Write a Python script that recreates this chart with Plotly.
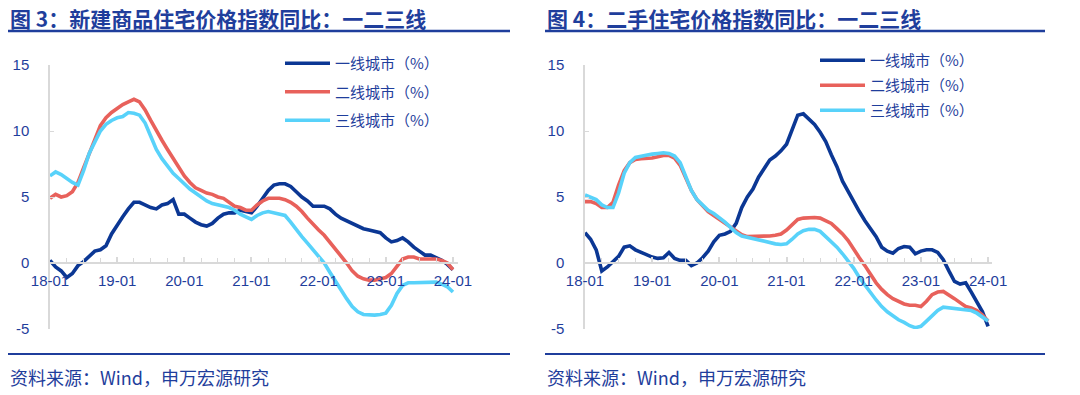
import plotly.graph_objects as go

# ---------------- data (monthly, 2018-01 .. 2024-01) ----------------
months = [f"{y:02d}-{m:02d}" for y in range(18, 25) for m in range(1, 13)][:73]
tick_labels = ["18-01", "19-01", "20-01", "21-01", "22-01", "23-01", "24-01"]
series_names = ["一线城市（%）", "二线城市（%）", "三线城市（%）"]

# Figure 3: new commercial housing price index YoY
new_tier1 = [0.2, -0.3, -0.6, -1.1, -0.8, -0.2, 0.1, 0.5, 0.9, 1.0, 1.3, 2.2,
             2.9, 3.5, 4.1, 4.6, 4.6, 4.4, 4.2, 4.1, 4.4, 4.5, 4.8, 3.7,
             3.7, 3.4, 3.1, 2.9, 2.8, 3.0, 3.4, 3.7, 3.8, 3.8, 4.0, 3.9,
             3.8, 4.3, 4.9, 5.5, 5.9, 6.0, 6.0, 5.8, 5.4, 5.0, 4.7, 4.3,
             4.3, 4.3, 4.1, 3.7, 3.4, 3.2, 3.0, 2.8, 2.6, 2.5, 2.4, 2.3,
             1.9, 1.6, 1.7, 1.9, 1.6, 1.2, 0.9, 0.6, 0.6, 0.4, 0.2, -0.1,
             -0.5]
new_tier2 = [4.9, 5.2, 5.0, 5.1, 5.4, 6.1, 7.2, 8.3, 9.4, 10.4, 11.0, 11.4,
             11.7, 12.0, 12.2, 12.4, 12.2, 11.6, 10.8, 10.0, 9.3, 8.6, 7.9, 7.2,
             6.6, 6.1, 5.7, 5.5, 5.3, 5.2, 5.0, 4.9, 4.6, 4.3, 4.2, 4.0,
             4.0, 4.4, 4.7, 4.9, 4.9, 4.9, 4.8, 4.6, 4.3, 3.9, 3.4, 2.9,
             2.5, 2.1, 1.6, 1.0, 0.5, 0.0, -0.6, -1.0, -1.2, -1.3, -1.3, -1.2,
             -1.1, -0.8, -0.2, 0.3, 0.45, 0.45, 0.3, 0.3, 0.3, 0.3, 0.2, 0.0,
             -0.5]
new_tier3 = [6.6, 6.9, 6.7, 6.4, 6.1, 5.9, 7.0, 8.3, 9.2, 10.0, 10.5, 10.8,
             11.0, 11.1, 11.4, 11.35, 11.2, 10.6, 9.6, 8.6, 7.9, 7.3, 6.8, 6.4,
             6.0, 5.6, 5.3, 5.0, 4.7, 4.5, 4.4, 4.35, 4.2, 4.0, 3.7, 3.5,
             3.3, 3.6, 3.8, 3.9, 3.8, 3.7, 3.6, 3.1, 2.5, 2.0, 1.5, 1.0,
             0.5, 0.0, -0.7, -1.4, -2.0, -2.7, -3.3, -3.7, -3.9, -3.95, -3.95, -3.9,
             -3.8, -3.2, -2.3, -1.7, -1.5, -1.5, -1.5, -1.45, -1.45, -1.45, -1.6, -1.8,
             -2.2]

# Figure 4: second-hand housing price index YoY
used_tier1 = [2.3, 1.8, 1.0, -0.6, -0.3, 0.1, 0.5, 1.2, 1.3, 1.0, 0.8, 0.6,
              0.45, 0.35, 0.4, 0.8, 0.35, 0.2, 0.2, -0.2, 0.0, 0.4, 0.9, 1.6,
              2.1, 2.2, 2.4, 3.0, 4.2, 5.0, 5.6, 6.5, 7.2, 7.8, 8.1, 8.5,
              9.0, 10.2, 11.2, 11.3, 10.9, 10.5, 9.9, 9.2, 8.2, 7.3, 6.2, 5.4,
              4.7, 3.9, 3.2, 2.6, 2.0, 1.2, 0.9, 0.75, 1.1, 1.25, 1.2, 0.7,
              0.9, 1.0, 1.0, 0.8, 0.25, -0.6, -1.4, -1.6, -1.5, -2.2, -3.0, -3.7,
              -4.8]
used_tier2 = [4.65, 4.65, 4.5, 4.2, 4.2, 4.6, 5.9, 7.0, 7.6, 7.85, 7.9, 7.9,
              7.95, 8.05, 8.15, 8.15, 7.95, 7.4, 6.5, 5.5, 4.8, 4.3, 3.9, 3.6,
              3.3, 3.0, 2.7, 2.4, 2.15, 2.0, 2.0, 2.0, 2.0, 2.05, 2.1, 2.2,
              2.5, 2.9, 3.3, 3.4, 3.45, 3.45, 3.4, 3.2, 3.0, 2.6, 2.2, 1.7,
              1.0, 0.4, -0.2, -0.9, -1.5, -2.0, -2.4, -2.7, -2.9, -3.1, -3.2, -3.2,
              -3.3, -2.9, -2.4, -2.2, -2.15, -2.4, -2.7, -3.0, -3.3, -3.4, -3.6, -3.95,
              -4.4]
used_tier3 = [5.15, 5.0, 4.8, 4.4, 4.2, 4.2, 5.3, 6.8, 7.6, 8.0, 8.1, 8.2,
              8.25, 8.3, 8.35, 8.3, 8.1, 7.6, 6.6, 5.5, 4.8, 4.4, 4.0, 3.75,
              3.45, 3.1, 2.7, 2.3, 2.05, 1.95, 1.85, 1.75, 1.6, 1.5, 1.45, 1.4,
              1.45, 1.8, 2.2, 2.45, 2.55, 2.55, 2.4, 2.0, 1.6, 1.2, 0.7, 0.2,
              -0.4, -1.1, -1.7, -2.3, -2.8, -3.3, -3.7, -4.0, -4.3, -4.5, -4.75, -4.9,
              -4.8, -4.4, -4.0, -3.6, -3.35, -3.4, -3.5, -3.5, -3.55, -3.6, -3.8, -4.1,
              -4.4]

y_tickvals = [-5, 0, 5, 10, 15]
y_ticktext = ["-5", "0", "5", "10", "15"]

# ---------------- styling ----------------
OFF = 8                      # page body margin of the html page
W, H = 1080 - OFF, 395 - OFF
C1, C2, C3 = "#0B3794", "#E8615B", "#58D2FA"
TXT = "#1F3E9C"
AX = "#D9D9D9"
FONT = "Liberation Sans, Arial, Noto Sans CJK SC, sans-serif"
CJK = "Noto Sans CJK SC, sans-serif"

x_idx = list(range(len(months)))
tick_pos = [months.index(t) for t in tick_labels]


def px(x):
    return (x - OFF) / W


def py(y):
    return 1 - (y - OFF) / H


fig = go.Figure()
panels = [
    ("x", "y", "legend", [new_tier1, new_tier2, new_tier3]),
    ("x2", "y2", "legend2", [used_tier1, used_tier2, used_tier3]),
]
for xa, ya, lg, data in panels:
    for k, (vals, col, nm) in enumerate(zip(data, [C1, C2, C3], series_names)):
        fig.add_trace(go.Scatter(
            x=x_idx, y=vals, mode="lines", name=nm,
            line=dict(color=col, width=3.6, shape="linear"),
            xaxis=xa, yaxis=ya, legend=lg, legendgroup=f"{lg}{k}",
            hoverinfo="skip"))

zero_pos = py(263)
y_dom = [py(329), py(65)]


def xaxis_cfg(left, right, rng):
    return dict(
        domain=[px(left), px(right)], range=rng, anchor="free", position=zero_pos,
        automargin=False,
        showline=True, linecolor=AX, linewidth=1.5,
        tickmode="array", tickvals=tick_pos, ticktext=tick_labels,
        ticks="inside", ticklen=5, tickwidth=1.5, tickcolor=AX,
        minor=dict(tickmode="linear", tick0=0, dtick=3, ticks="inside",
                   ticklen=4, tickwidth=1, tickcolor=AX),
        showgrid=False, zeroline=False, ticklabelstandoff=4,
        tickfont=dict(size=15, color=TXT, family=FONT),
    )


def yaxis_cfg(anchor):
    return dict(
        domain=y_dom, range=[-5, 15], anchor=anchor, automargin=False,
        showline=True, linecolor=AX, linewidth=1.5,
        tickmode="array", tickvals=y_tickvals, ticktext=y_ticktext,
        ticks="inside", ticklen=4, tickcolor=AX,
        showgrid=False, zeroline=False, ticklabelstandoff=16,
        tickfont=dict(size=15, color=TXT, family=FONT),
    )


legend_common = dict(
    xanchor="left", yanchor="top", bgcolor="rgba(0,0,0,0)",
    font=dict(size=15, color=TXT, family=CJK), traceorder="grouped",
    itemwidth=45,
)

fig.update_layout(
    width=W, height=H, margin=dict(l=0, r=0, t=0, b=0, autoexpand=False),
    paper_bgcolor="white", plot_bgcolor="white",
    xaxis=xaxis_cfg(50, 458, [0, 72.9]),
    yaxis=yaxis_cfg("x"),
    xaxis2=xaxis_cfg(585, 992, [0, 72.7]),
    yaxis2=yaxis_cfg("x2"),
    legend=dict(x=px(280), y=py(47), tracegroupgap=6, **legend_common),
    legend2=dict(x=px(815), y=py(44), tracegroupgap=2.5, **legend_common),
    showlegend=True,
)

# titles, rules and source lines
for x0, x1, title in [
    (8, 510, "图 3：新建商品住宅价格指数同比：一二三线"),
    (545, 1045, "图 4：二手住宅价格指数同比：一二三线"),
]:
    fig.add_annotation(x=px(x0 + 1), y=py(18), xref="paper", yref="paper",
                       xanchor="left", yanchor="middle", showarrow=False,
                       borderpad=0,
                       text=title, font=dict(size=21, color=TXT, family=CJK, weight=700))
    fig.add_annotation(x=px(x0), y=py(377), xref="paper", yref="paper",
                       xanchor="left", yanchor="middle", showarrow=False,
                       text="资料来源：Wind，申万宏源研究",
                       font=dict(size=18, color=TXT, family=CJK))
    fig.add_shape(type="line", xref="paper", yref="paper",
                  x0=px(x0), x1=px(x1), y0=py(31), y1=py(31),
                  line=dict(color=TXT, width=2.5))
    fig.add_shape(type="line", xref="paper", yref="paper",
                  x0=px(x0), x1=px(x1), y0=py(354), y1=py(354),
                  line=dict(color=TXT, width=2))

fig.write_html("out.html")
